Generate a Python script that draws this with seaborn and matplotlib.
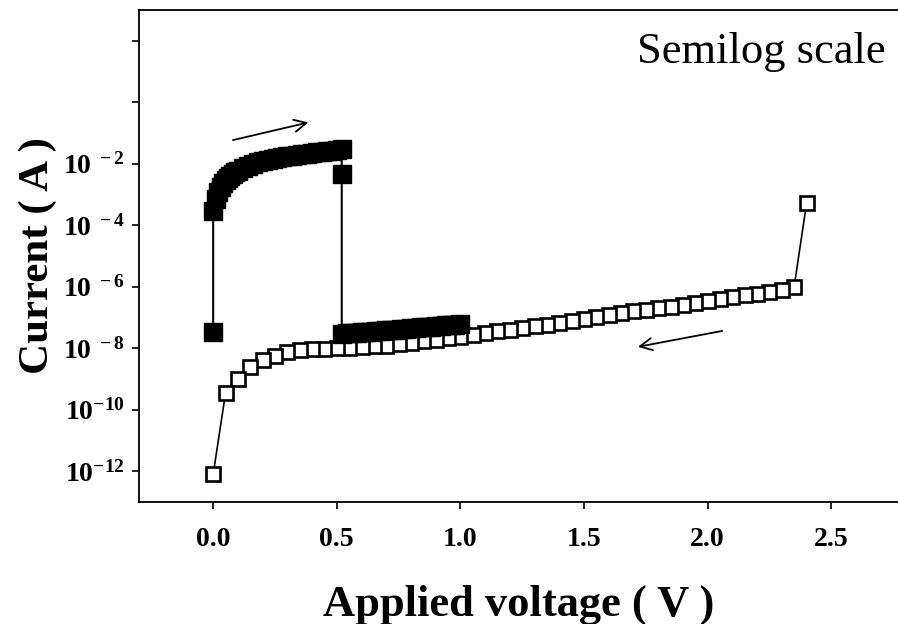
import numpy as np
import pandas as pd
import matplotlib
matplotlib.use('Agg')
import matplotlib.pyplot as plt
import seaborn as sns

# reverse sweep (open squares), 2.4 V -> 0 V
v_reset = [2.40, 2.35, 2.30, 2.25, 2.20, 2.15, 2.10, 2.05, 2.00, 1.95, 1.90, 1.85,
           1.80, 1.75, 1.70, 1.65, 1.60, 1.55, 1.50, 1.45, 1.40, 1.35, 1.30, 1.25,
           1.20, 1.15, 1.10, 1.05, 1.00, 0.95, 0.90, 0.85, 0.80, 0.75, 0.70, 0.65,
           0.60, 0.55, 0.50, 0.45, 0.40, 0.35, 0.30, 0.25, 0.20, 0.15, 0.10, 0.05, 0.00]
i_reset = [5.1e-4, 1.0e-6, 7.94e-7, 6.92e-7, 6.03e-7, 5.25e-7, 4.68e-7, 4.07e-7, 3.55e-7,
           3.02e-7, 2.57e-7, 2.24e-7, 2.0e-7, 1.78e-7, 1.58e-7, 1.38e-7, 1.20e-7, 1.02e-7,
           8.71e-8, 7.76e-8, 6.76e-8, 5.89e-8, 5.13e-8, 4.57e-8, 3.89e-8, 3.55e-8, 3.16e-8,
           2.75e-8, 2.40e-8, 2.09e-8, 1.86e-8, 1.70e-8, 1.51e-8, 1.35e-8, 1.20e-8, 1.15e-8,
           1.10e-8, 1.05e-8, 1.02e-8, 9.8e-9, 9.3e-9, 8.7e-9, 7.4e-9, 5.6e-9, 4.0e-9,
           2.4e-9, 1.0e-9, 3.5e-10, 7.9e-13]

# forward sweep (filled squares): off -> on at 0 V, on state up to 0.52 V, drop, off state to 1 V
v_set = [0.00, 0.00, 0.01, 0.02, 0.03, 0.04, 0.05, 0.06, 0.07, 0.08, 0.09, 0.10,
         0.12, 0.14, 0.16, 0.18, 0.20, 0.22, 0.24, 0.26, 0.28, 0.30, 0.32, 0.34,
         0.36, 0.38, 0.40, 0.42, 0.44, 0.46, 0.48, 0.50, 0.52, 0.52,
         0.52, 0.54, 0.56, 0.58, 0.60, 0.62, 0.64, 0.66, 0.68, 0.70, 0.72, 0.74,
         0.76, 0.78, 0.80, 0.82, 0.84, 0.86, 0.88, 0.90, 0.92, 0.94, 0.96, 0.98, 1.00]
i_set = [3.3e-8, 3.0e-4, 7.1e-4, 1.2e-3, 1.74e-3, 2.29e-3, 2.88e-3, 3.47e-3, 4.07e-3,
         4.68e-3, 5.37e-3, 6.0e-3, 7.4e-3, 8.7e-3, 1.0e-2, 1.12e-2, 1.23e-2, 1.32e-2,
         1.41e-2, 1.51e-2, 1.62e-2, 1.74e-2, 1.82e-2, 1.91e-2, 2.04e-2, 2.14e-2, 2.24e-2,
         2.34e-2, 2.45e-2, 2.57e-2, 2.69e-2, 2.82e-2, 2.95e-2, 4.8e-3,
         2.95e-8, 3.02e-8, 3.09e-8, 3.16e-8, 3.31e-8, 3.39e-8, 3.47e-8, 3.55e-8, 3.72e-8,
         3.80e-8, 3.98e-8, 4.07e-8, 4.17e-8, 4.37e-8, 4.47e-8, 4.57e-8, 4.79e-8, 4.90e-8,
         5.01e-8, 5.25e-8, 5.37e-8, 5.50e-8, 5.62e-8, 5.89e-8, 6.03e-8]

y_ticks = [1e-12, 1e-10, 1e-8, 1e-6, 1e-4, 1e-2, 1e0, 1e2]
y_ticklabels = [r'$10^{-12}$', r'$10^{-10}$', r'$10^{\ -8}$', r'$10^{\ -6}$',
                r'$10^{\ -4}$', r'$10^{\ -2}$', '', '']
x_ticks = [0.0, 0.5, 1.0, 1.5, 2.0, 2.5]

reset_df = pd.DataFrame({'V': v_reset, 'I': i_reset})
set_df = pd.DataFrame({'V': v_set, 'I': i_set})

sns.set_style('ticks')
plt.rcParams['font.family'] = ['Liberation Serif', 'DejaVu Serif']
plt.rcParams['text.color'] = 'black'
plt.rcParams['axes.labelcolor'] = 'black'
plt.rcParams['xtick.color'] = 'black'
plt.rcParams['ytick.color'] = 'black'
plt.rcParams['mathtext.fontset'] = 'custom'
plt.rcParams['mathtext.rm'] = 'Liberation Serif:bold'
plt.rcParams['mathtext.it'] = 'Liberation Serif:bold'
plt.rcParams['mathtext.bf'] = 'Liberation Serif:bold'

fig = plt.figure(figsize=(8.98, 6.24), dpi=100)
ax = fig.add_axes([0.1548, 0.1955, 0.8452, 0.7885])
ax.set_yscale('log')

# open squares first, filled ones drawn over them
sns.lineplot(data=reset_df, x='V', y='I', sort=False, estimator=None, ax=ax,
             color='black', linewidth=1.2, marker='s', markersize=10.5,
             markerfacecolor='white', markeredgecolor='black', markeredgewidth=1.9)
sns.lineplot(data=set_df, x='V', y='I', sort=False, estimator=None, ax=ax,
             color='black', linewidth=1.5, marker='s', markersize=13.5,
             markerfacecolor='black', markeredgecolor='black', markeredgewidth=1)

ax.set_xlim(-0.30, 2.77)
ax.set_ylim(1e-13, 1e3)
ax.set_xticks(x_ticks)
ax.set_xticklabels([f'{t:.1f}' for t in x_ticks], fontweight='bold')
ax.set_yticks(y_ticks)
ax.set_yticklabels(y_ticklabels)
ax.minorticks_off()
ax.tick_params(axis='both', direction='out', length=5, width=1.2, labelsize=20, color='black')
ax.tick_params(axis='x', pad=13)
ax.tick_params(axis='y', pad=5)

for side in ['left', 'top', 'bottom']:
    ax.spines[side].set_linewidth(1.3)
    ax.spines[side].set_color('black')
ax.spines['right'].set_visible(False)

ax.set_xlabel('Applied voltage ( V )', fontsize=32, fontweight='bold')
ax.set_ylabel('Current ( A )', fontsize=31, fontweight='bold')
ax.xaxis.set_label_coords(0.5, -0.168)
ax.yaxis.set_label_coords(-0.108, 0.5)

ax.text(0.656, 0.892, 'Semilog scale', transform=ax.transAxes, fontsize=32,
        ha='left', va='baseline', color='black')

# sweep direction arrows
ax.annotate('', xy=(0.396, 0.231), xytext=(0.069, 0.056),
            arrowprops=dict(arrowstyle='->', lw=1.3, color='black', mutation_scale=22))
ax.annotate('', xy=(1.707, 1.07e-8), xytext=(2.07, 3.8e-8),
            arrowprops=dict(arrowstyle='->', lw=1.3, color='black', mutation_scale=22))

fig.savefig('out.png', dpi=100)
